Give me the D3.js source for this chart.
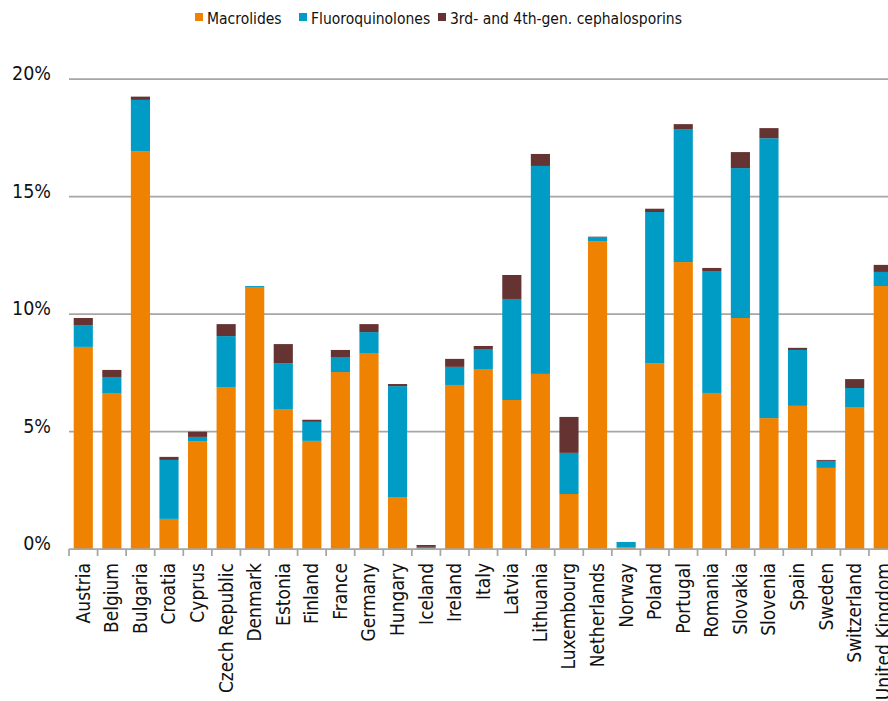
<!DOCTYPE html>
<html>
<head>
<meta charset="utf-8">
<script src="https://cdn.jsdelivr.net/npm/d3@7"></script>
<style>
  body { margin: 0; background: #fff; }
  svg { display: block; font-family: "DejaVu Sans Condensed", "DejaVu Sans", sans-serif; font-stretch: condensed; }
</style>
</head>
<body>
<div class="d3-canvas"></div>
<script>
const WIDTH = 888;
const HEIGHT = 701;

const countries = ['Austria', 'Belgium', 'Bulgaria', 'Croatia', 'Cyprus', 'Czech Republic', 'Denmark',
    'Estonia', 'Finland', 'France', 'Germany', 'Hungary', 'Iceland', 'Ireland', 'Italy', 'Latvia',
    'Lithuania', 'Luxembourg', 'Netherlands', 'Norway', 'Poland', 'Portugal', 'Romania', 'Slovakia',
    'Slovenia', 'Spain', 'Sweden', 'Switzerland', 'United Kingdom'];

const macrolides = [8.60, 6.61, 16.91, 1.28, 4.57, 6.89, 11.15, 5.93, 4.60, 7.53, 8.34, 2.21, 0.02, 6.98,
    7.66, 6.34, 7.45, 2.34, 13.08, 0.06, 7.91, 12.21, 6.64, 9.83, 5.57, 6.09, 3.45, 6.04, 11.19];
const fluoroquinolones = [0.93, 0.71, 2.20, 2.51, 0.20, 2.17, 0.04, 1.98, 0.81, 0.64, 0.89, 4.72, 0.07,
    0.77, 0.85, 4.30, 8.85, 1.75, 0.17, 0.24, 6.43, 5.66, 5.19, 6.38, 11.91, 2.38, 0.30, 0.81, 0.60];
const cephalosporins = [0.30, 0.30, 0.14, 0.13, 0.22, 0.51, 0.00, 0.81, 0.09, 0.30, 0.34, 0.09, 0.08,
    0.34, 0.13, 1.02, 0.51, 1.53, 0.04, 0.00, 0.14, 0.21, 0.13, 0.68, 0.43, 0.09, 0.04, 0.38, 0.30];

const seriesNames = ['Macrolides', 'Fluoroquinolones', '3rd- and 4th-gen. cephalosporins'];
const seriesColors = ['#ef8200', '#009cc5', '#663333'];
const yTicks = [0, 5, 10, 15, 20];

const margin = {top: 79, left: 69, bottom: HEIGHT - 549};
const step = 28.57;
const plotRight = margin.left + step * countries.length;

const svg = d3.select('.d3-canvas')
    .append('svg')
        .attr('width', WIDTH)
        .attr('height', HEIGHT);

// Stack the three series per country.
const rows = countries.map((c, i) => ({
    country: c,
    s0: macrolides[i],
    s1: fluoroquinolones[i],
    s2: cephalosporins[i]
}));
const stacked = d3.stack().keys(['s0', 's1', 's2'])(rows);

const x = d3.scaleBand()
    .domain(countries)
    .range([margin.left, plotRight])
    .paddingInner(0.33)
    .paddingOuter(0.165);
const y = d3.scaleLinear()
    .domain([0, 20])
    .range([549, margin.top]);

// Horizontal gridlines (behind the bars).
svg.append('g')
    .selectAll('line')
    .data(yTicks.filter(d => d > 0))
    .join('line')
        .attr('x1', margin.left)
        .attr('x2', WIDTH)
        .attr('y1', d => y(d))
        .attr('y2', d => y(d))
        .attr('stroke', '#a6a6a6')
        .attr('stroke-width', 1.75);

// Y labels.
svg.append('g')
    .selectAll('text')
    .data(yTicks)
    .join('text')
        .attr('x', 51)
        .attr('y', d => y(d) + 1)
        .attr('text-anchor', 'end')
        .attr('font-size', 19.5)
        .attr('fill', '#111')
        .text(d => `${d}%`);

// Bars.
svg.append('g')
    .selectAll('g')
    .data(stacked)
    .join('g')
        .attr('fill', (d, i) => seriesColors[i])
    .selectAll('rect')
    .data(d => d)
    .join('rect')
        .attr('x', d => x(d.data.country))
        .attr('width', x.bandwidth())
        .attr('y', d => y(d[1]))
        .attr('height', d => y(d[0]) - y(d[1]));

// X axis: baseline with ticks between categories.
const xAxisGroup = svg.append('g');
xAxisGroup.append('line')
    .attr('x1', margin.left)
    .attr('x2', plotRight)
    .attr('y1', y(0))
    .attr('y2', y(0))
    .attr('stroke', '#a6a6a6')
    .attr('stroke-width', 1.75);
xAxisGroup.selectAll('.tick-mark')
    .data(d3.range(countries.length + 1))
    .join('line')
        .attr('class', 'tick-mark')
        .attr('x1', i => margin.left + i * x.step())
        .attr('x2', i => margin.left + i * x.step())
        .attr('y1', y(0))
        .attr('y2', y(0) + 7)
        .attr('stroke', '#a6a6a6')
        .attr('stroke-width', 1.75);
xAxisGroup.selectAll('.label')
    .data(countries)
    .join('text')
        .attr('class', 'label')
        .attr('transform', d => `translate(${x(d) + x.bandwidth() / 2 + 6.5}, 563) rotate(-90)`)
        .attr('text-anchor', 'end')
        .attr('font-size', 19)
        .attr('fill', '#111')
        .text(d => d);

// Legend.
const legendX = [195, 299, 438];
const legend = svg.append('g')
    .selectAll('g')
    .data(seriesNames)
    .join('g')
        .attr('transform', (d, i) => `translate(${legendX[i]}, 0)`);
legend.append('rect')
    .attr('y', 13)
    .attr('width', 8)
    .attr('height', 8)
    .attr('fill', (d, i) => seriesColors[i]);
legend.append('text')
    .attr('x', 12)
    .attr('y', 24)
    .attr('font-size', 15.5)
    .attr('fill', '#111')
    .text(d => d);
</script>
</body>
</html>
